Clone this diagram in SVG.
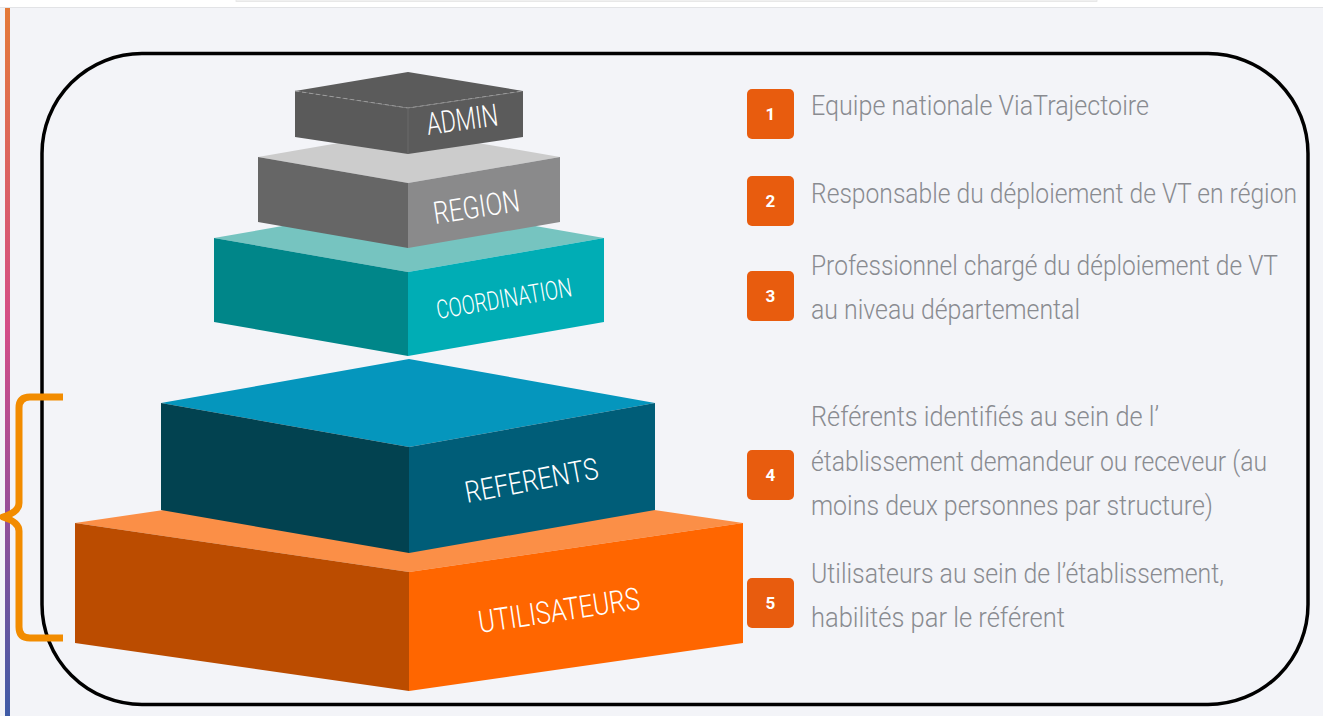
<svg xmlns="http://www.w3.org/2000/svg" width="1323" height="716" viewBox="0 0 1323 716">
<defs>
<linearGradient id="barGrad" x1="0" y1="0" x2="0" y2="1">
<stop offset="0" stop-color="#e47a38"/>
<stop offset="0.45" stop-color="#d44d88"/>
<stop offset="0.7" stop-color="#9a4f98"/>
<stop offset="1" stop-color="#3e5ba6"/>
</linearGradient>
<style>
.lbl{font-family:Roboto,"Liberation Sans",sans-serif;fill:#ffffff;font-weight:300}
.desc{font-family:Roboto,"Liberation Sans",sans-serif;fill:#898b90;font-size:28px;font-weight:300}
.badge{fill:#e85c0e}
.num{font-family:Roboto,"Liberation Sans",sans-serif;fill:#ffffff;font-size:17px;font-weight:700;text-anchor:middle}
</style>
</defs>
<rect x="0" y="0" width="1323" height="716" fill="#f3f4f8"/>
<rect x="0" y="0" width="1323" height="7" fill="#ffffff"/>
<line x1="0" y1="7.5" x2="1323" y2="7.5" stroke="#e2e3e6" stroke-width="1"/>
<rect x="236" y="-1" width="861" height="2.5" fill="#f0f0f0" stroke="#e4e4e4" stroke-width="0.8"/>
<rect x="5" y="8" width="5" height="708" fill="url(#barGrad)"/>
<rect id="frame" x="42" y="53.5" width="1266" height="651" rx="100" ry="100" fill="none" stroke="#000000" stroke-width="3.5"/>

<g id="level-utilisateurs">
<polygon points="75,523 409,474 743,523 409,572" fill="#fb8f47"/>
<polygon points="75,523 409,572 409,691 75,643" fill="#bb4c00"/>
<polygon points="409,572 743,523 743,643 409,691" fill="#ff6600"/>
<text class="lbl" font-size="31" transform="translate(480,633) rotate(-8.5)" textLength="163" lengthAdjust="spacingAndGlyphs">UTILISATEURS</text>
</g>

<g id="level-referents">
<polygon points="161,403 409,359 655,403 409,447" fill="#0596bd"/>
<polygon points="161,403 409,447 409,553 161,510" fill="#024250"/>
<polygon points="409,447 655,403 655,510 409,553" fill="#005d78"/>
<text class="lbl" font-size="30" transform="translate(467,503) rotate(-10.6)" textLength="135" lengthAdjust="spacingAndGlyphs">REFERENTS</text>
</g>

<g id="level-coordination">
<polygon points="214,238 408,204 604,238 408,272" fill="#76c4c0"/>
<polygon points="214,238 408,272 408,356 214,322" fill="#008689"/>
<polygon points="408,272 604,238 604,322 408,356" fill="#00adb5"/>
<text class="lbl" font-size="26" transform="translate(438,319) rotate(-9.7)" textLength="137" lengthAdjust="spacingAndGlyphs">COORDINATION</text>
</g>

<g id="level-region">
<polygon points="258,157 408,131 560,157 408,183" fill="#cccccc"/>
<polygon points="258,157 408,183 408,248 258,222" fill="#666666"/>
<polygon points="408,183 560,157 560,222 408,248" fill="#8a8a8b"/>
<text class="lbl" font-size="31" transform="translate(435,224) rotate(-8.6)" textLength="87" lengthAdjust="spacingAndGlyphs">REGION</text>
</g>

<g id="level-admin">
<polygon points="295,91 408,72 523,91 408,108" fill="#5b5b5b"/>
<polygon points="295,91 408,108 408,154 295,137" fill="#5a5a5a"/>
<polygon points="408,108 523,91 523,137 408,154" fill="#5b5b5b"/>
<polyline points="295,91 408,108 523,91" fill="none" stroke="#9c9c9c" stroke-width="1" stroke-dasharray="4 3"/>
<line x1="408" y1="108" x2="408" y2="154" stroke="#6a6a6a" stroke-width="1"/>
<text class="lbl" font-size="31" transform="translate(428,135) rotate(-7.8)" textLength="72" lengthAdjust="spacingAndGlyphs">ADMIN</text>
</g>

<g id="connectors">
<path d="M63,397 L30,397 Q19,397 19,408 L19,503 Q19,512 3,517 Q19,522 19,531 L19,627 Q19,638 30,638 L63,638" fill="none" stroke="#f28c00" stroke-width="7" stroke-linejoin="round"/>
</g>

<g id="item-1">
<rect class="badge" x="747" y="89" width="47" height="50" rx="5"/>
<text class="num" x="770.5" y="120">1</text>
<text class="desc" x="811" y="115" textLength="338" lengthAdjust="spacingAndGlyphs">Equipe nationale ViaTrajectoire</text>
</g>
<g id="item-2">
<rect class="badge" x="747" y="176" width="47" height="50" rx="5"/>
<text class="num" x="770.5" y="207">2</text>
<text class="desc" x="811" y="203" textLength="486" lengthAdjust="spacingAndGlyphs">Responsable du déploiement de VT en région</text>
</g>
<g id="item-3">
<rect class="badge" x="747" y="271" width="47" height="50" rx="5"/>
<text class="num" x="770.5" y="302">3</text>
<text class="desc" x="811" y="275" textLength="467" lengthAdjust="spacingAndGlyphs">Professionnel chargé du déploiement de VT</text>
<text class="desc" x="811" y="319" textLength="269" lengthAdjust="spacingAndGlyphs">au niveau départemental</text>
</g>
<g id="item-4">
<rect class="badge" x="747" y="450" width="47" height="50" rx="5"/>
<text class="num" x="770.5" y="481">4</text>
<text class="desc" x="811" y="426" textLength="348" lengthAdjust="spacingAndGlyphs">Référents identifiés au sein de l’</text>
<text class="desc" x="811" y="471" textLength="456" lengthAdjust="spacingAndGlyphs">établissement demandeur ou receveur (au</text>
<text class="desc" x="811" y="515" textLength="402" lengthAdjust="spacingAndGlyphs">moins deux personnes par structure)</text>
</g>
<g id="item-5">
<rect class="badge" x="747" y="578" width="47" height="50" rx="5"/>
<text class="num" x="770.5" y="609">5</text>
<text class="desc" x="811" y="583" textLength="413" lengthAdjust="spacingAndGlyphs">Utilisateurs au sein de l’établissement,</text>
<text class="desc" x="811" y="627" textLength="254" lengthAdjust="spacingAndGlyphs">habilités par le référent</text>
</g>
</svg>
